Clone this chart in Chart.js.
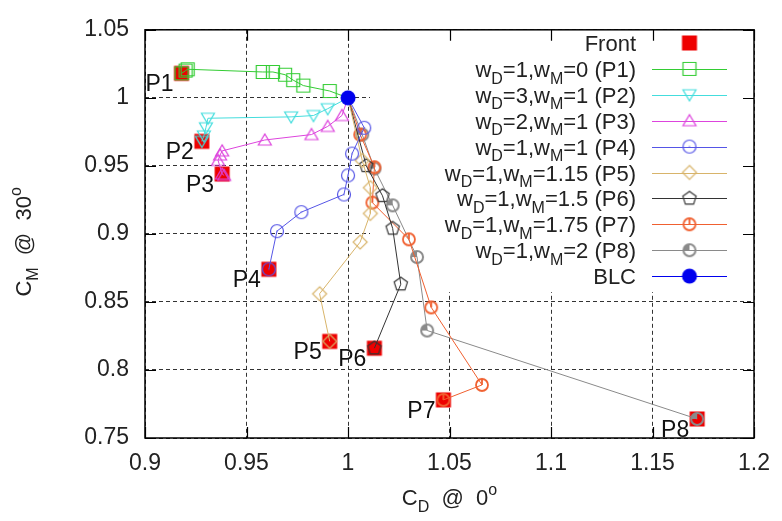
<!DOCTYPE html>
<html>
<head>
<meta charset="utf-8">
<script src="https://cdn.jsdelivr.net/npm/chart.js@4.4.0/dist/chart.umd.min.js"></script>
<style>
  html, body { margin: 0; padding: 0; background: #fff; }
</style>
</head>
<body>
<canvas id="chart" width="782" height="521"></canvas>
<script>
const FONT = "'Liberation Sans', Arial, sans-serif";

// axis ticks
const xTicks = [0.9, 0.95, 1, 1.05, 1.1, 1.15, 1.2];
const yTicks = [0.75, 0.8, 0.85, 0.9, 0.95, 1, 1.05];

// baseline design, every run starts from here
const blc = [[1.0, 1.0]];

// final designs (Pareto front)
const front = [[0.918, 1.018], [0.928, 0.968], [0.938, 0.944], [0.961, 0.874],
               [0.991, 0.821], [1.013, 0.816], [1.047, 0.778], [1.172, 0.764]];
const frontNames = ["P1", "P2", "P3", "P4", "P5", "P6", "P7", "P8"];

// optimisation histories (after BLC)
const p1 = [[0.991, 1.005], [0.978, 1.009], [0.973, 1.013], [0.969, 1.017], [0.963, 1.019],
            [0.958, 1.019], [0.921, 1.021], [0.920, 1.020], [0.918, 1.018]];
const p2 = [[0.990, 0.992], [0.983, 0.987], [0.972, 0.986], [0.931, 0.985], [0.930, 0.978],
            [0.929, 0.972], [0.928, 0.968]];
const p3 = [[0.997, 0.987], [0.990, 0.979], [0.982, 0.973], [0.959, 0.969], [0.938, 0.961],
            [0.937, 0.958], [0.936, 0.954], [0.938, 0.944], [0.939, 0.943]];
const p4 = [[1.008, 0.978], [1.002, 0.959], [1.000, 0.943], [0.998, 0.929], [0.977, 0.916],
            [0.965, 0.902], [0.961, 0.874]];
const p5 = [[1.007, 0.954], [1.011, 0.934], [1.011, 0.915], [1.006, 0.894], [0.986, 0.856],
            [0.991, 0.821]];
const p6 = [[1.009, 0.950], [1.017, 0.928], [1.022, 0.904], [1.026, 0.863], [1.013, 0.816]];
const p7 = [[1.006, 0.973], [1.013, 0.949], [1.012, 0.923], [1.030, 0.896], [1.041, 0.846],
            [1.066, 0.789], [1.047, 0.778]];
const p8 = [[1.007, 0.973], [1.013, 0.948], [1.022, 0.921], [1.034, 0.883], [1.039, 0.829],
            [1.172, 0.764]];

const seriesNames = ["w_D=1,w_M=0 (P1)", "w_D=3,w_M=1 (P2)", "w_D=2,w_M=1 (P3)",
                     "w_D=1,w_M=1 (P4)", "w_D=1,w_M=1.15 (P5)", "w_D=1,w_M=1.5 (P6)",
                     "w_D=1,w_M=1.75 (P7)", "w_D=1,w_M=2 (P8)"];

const series = [
  { data: p1, color: "#33cc33", kind: "square" },
  { data: p2, color: "#44dddd", kind: "tridown" },
  { data: p3, color: "#dd44dd", kind: "triup" },
  { data: p4, color: "#5555e6", kind: "circle" },
  { data: p5, color: "#d8b46a", kind: "diamond" },
  { data: p6, color: "#333333", kind: "pentagon" },
  { data: p7, color: "#f06030", kind: "circleTick" },
  { data: p8, color: "#8a8a8a", kind: "circleQuarter" }
];

function marker(kind, color) {
  const c = document.createElement("canvas");
  c.width = c.height = 22;
  const g = c.getContext("2d");
  g.translate(11, 11);
  g.strokeStyle = color;
  g.fillStyle = color;
  g.lineWidth = 1.2;
  g.beginPath();
  if (kind === "square") {
    g.rect(-6.5, -6.5, 13, 13);
    g.stroke();
  } else if (kind === "tridown") {
    g.moveTo(-6.5, -5); g.lineTo(6.5, -5); g.lineTo(0, 6); g.closePath();
    g.stroke();
  } else if (kind === "triup") {
    g.moveTo(-6.5, 5); g.lineTo(6.5, 5); g.lineTo(0, -6); g.closePath();
    g.stroke();
  } else if (kind === "circle") {
    g.arc(0, 0, 6.5, 0, Math.PI * 2);
    g.stroke();
    g.fillRect(-0.6, -0.6, 1.2, 1.2);
  } else if (kind === "diamond") {
    g.moveTo(0, -7); g.lineTo(7, 0); g.lineTo(0, 7); g.lineTo(-7, 0); g.closePath();
    g.stroke();
  } else if (kind === "pentagon") {
    for (let i = 0; i < 5; i++) {
      const a = -Math.PI / 2 + i * 2 * Math.PI / 5;
      g.lineTo(7 * Math.cos(a), 7 * Math.sin(a));
    }
    g.closePath();
    g.stroke();
  } else if (kind === "circleTick") {
    g.lineWidth = 1.8;
    g.arc(0, 0, 6, 0, Math.PI * 2);
    g.moveTo(0, 0); g.lineTo(0, -6);
    g.stroke();
  } else if (kind === "circleQuarter") {
    g.lineWidth = 2;
    g.arc(0, 0, 6, 0, Math.PI * 2);
    g.stroke();
    g.beginPath();
    g.moveTo(0, 0); g.arc(0, 0, 6, Math.PI, Math.PI * 1.5); g.closePath();
    g.fill();
  } else if (kind === "disc") {
    g.arc(0, 0, 7.5, 0, Math.PI * 2);
    g.fill();
  } else if (kind === "front") {
    g.fillRect(-7.5, -7.5, 15, 15);
  }
  return c;
}

function toXY(pairs) {
  return pairs.map(([x, y]) => ({ x, y }));
}

// "w_D" -> w with subscript D, "0^o" -> 0 with superscript o
function drawRich(ctx, str, x, y, size, align) {
  const parts = [];
  const re = /([_^])(\w)/g;
  let last = 0, m;
  while ((m = re.exec(str))) {
    if (m.index > last) parts.push({ t: str.slice(last, m.index), k: "n" });
    parts.push({ t: m[2], k: m[1] === "_" ? "sub" : "sup" });
    last = re.lastIndex;
  }
  if (last < str.length) parts.push({ t: str.slice(last), k: "n" });
  const small = Math.round(size * 0.72);
  let total = 0;
  parts.forEach((p) => {
    ctx.font = `${p.k === "n" ? size : small}px ${FONT}`;
    p.w = ctx.measureText(p.t).width;
    total += p.w;
  });
  let cx = align === "right" ? x - total : align === "center" ? x - total / 2 : x;
  ctx.textAlign = "left";
  ctx.textBaseline = "alphabetic";
  parts.forEach((p) => {
    ctx.font = `${p.k === "n" ? size : small}px ${FONT}`;
    const dy = p.k === "sub" ? size * 0.3 : p.k === "sup" ? -size * 0.45 : 0;
    ctx.fillText(p.t, cx, y + dy);
    cx += p.w;
  });
}

const blcMarker = marker("disc", "#0000ee");
const frontMarker = marker("front", "#ee0000");
series.forEach((s) => { s.img = marker(s.kind, s.color); });

const datasets = [
  { label: "BLC", data: toXY(blc), pointStyle: blcMarker, pointRadius: 7, showLine: false, order: 0 }
];
series.forEach((s, i) => {
  datasets.push({
    label: seriesNames[i],
    data: toXY([blc[0], ...s.data]),
    showLine: true,
    borderColor: s.color,
    borderWidth: 1,
    pointStyle: s.img,
    pointRadius: (c) => (c.dataIndex === 0 ? 0 : 6),
    order: i + 1
  });
});
datasets.push({ label: "Front", data: toXY(front), pointStyle: frontMarker, pointRadius: 7, showLine: false, order: 20 });

const decor = {
  id: "decor",
  beforeDatasetsDraw(chart) {
    const { ctx, chartArea: a } = chart;
    ctx.save();
    ctx.fillStyle = "#fff";
    ctx.fillRect(370, a.top, a.right - 370, 292 - a.top);
    ctx.restore();
  },
  afterDatasetsDraw(chart) {
    const { ctx, chartArea: a, scales } = chart;
    ctx.save();
    // frame and inward ticks
    ctx.strokeStyle = "#000";
    ctx.lineWidth = 1.5;
    ctx.strokeRect(a.left, a.top, a.right - a.left, a.bottom - a.top);
    ctx.lineWidth = 1.2;
    ctx.beginPath();
    xTicks.forEach((v) => {
      const px = Math.round(scales.x.getPixelForValue(v)) + 0.5;
      ctx.moveTo(px, a.bottom); ctx.lineTo(px, a.bottom - 11);
      ctx.moveTo(px, a.top); ctx.lineTo(px, a.top + 11);
    });
    yTicks.forEach((v) => {
      const py = Math.round(scales.y.getPixelForValue(v)) + 0.5;
      ctx.moveTo(a.left, py); ctx.lineTo(a.left + 11, py);
      ctx.moveTo(a.right, py); ctx.lineTo(a.right - 11, py);
    });
    ctx.stroke();

    // point labels next to the front
    ctx.fillStyle = "#111";
    front.forEach((p, i) => {
      const px = scales.x.getPixelForValue(p[0]);
      const py = scales.y.getPixelForValue(p[1]);
      drawRich(ctx, frontNames[i], px - 8, py + 18, 23, "right");
    });

    // key
    const rowY = 43;
    const step = 25.9;
    const textX = 636;
    const l0 = 652, l1 = 727, mx = 689.5;
    const rows = [{ name: "Front", img: frontMarker, line: null }];
    series.forEach((s, i) => rows.push({ name: seriesNames[i], img: s.img, line: s.color }));
    rows.push({ name: "BLC", img: blcMarker, line: "#0000ee" });
    rows.forEach((r, i) => {
      const cy = rowY + i * step;
      ctx.fillStyle = "#222";
      drawRich(ctx, r.name, textX, cy + 8, 22, "right");
      if (r.line) {
        ctx.strokeStyle = r.line;
        ctx.lineWidth = 1;
        ctx.beginPath();
        ctx.moveTo(l0, Math.round(cy) + 0.5);
        ctx.lineTo(l1, Math.round(cy) + 0.5);
        ctx.stroke();
      }
      ctx.drawImage(r.img, mx - r.img.width / 2, cy - r.img.height / 2);
    });

    // axis titles
    ctx.fillStyle = "#222";
    drawRich(ctx, "C_D  @  0^o", (a.left + a.right) / 2, 505, 22, "center");
    ctx.translate(31, (a.top + a.bottom) / 2 + 8);
    ctx.rotate(-Math.PI / 2);
    drawRich(ctx, "C_M  @  30^o", 0, 0, 22, "center");
    ctx.restore();
  }
};

new Chart(document.getElementById("chart"), {
  type: "scatter",
  data: { datasets },
  options: {
    responsive: false,
    animation: false,
    events: [],
    layout: { padding: { left: 0, right: 24, top: 17, bottom: 0 } },
    plugins: { legend: { display: false }, tooltip: { enabled: false } },
    scales: {
      x: {
        type: "linear",
        min: 0.9,
        max: 1.2,
        afterBuildTicks: (s) => { s.ticks = xTicks.map((v) => ({ value: v })); },
        afterFit: (s) => { s.height = 83; },
        ticks: { callback: (v) => String(v), color: "#222", font: { size: 23, family: FONT }, padding: 12, maxRotation: 0, autoSkip: false },
        grid: { color: "#333", lineWidth: 1, drawTicks: false },
        border: { display: false, dash: [4, 3] }
      },
      y: {
        type: "linear",
        min: 0.75,
        max: 1.05,
        afterBuildTicks: (s) => { s.ticks = yTicks.map((v) => ({ value: v })); },
        afterFit: (s) => { s.width = 145; },
        ticks: { callback: (v) => String(v), color: "#222", font: { size: 23, family: FONT }, padding: 16, autoSkip: false },
        grid: { color: "#333", lineWidth: 1, drawTicks: false },
        border: { display: false, dash: [4, 3] }
      }
    }
  },
  plugins: [decor]
});
</script>
</body>
</html>
